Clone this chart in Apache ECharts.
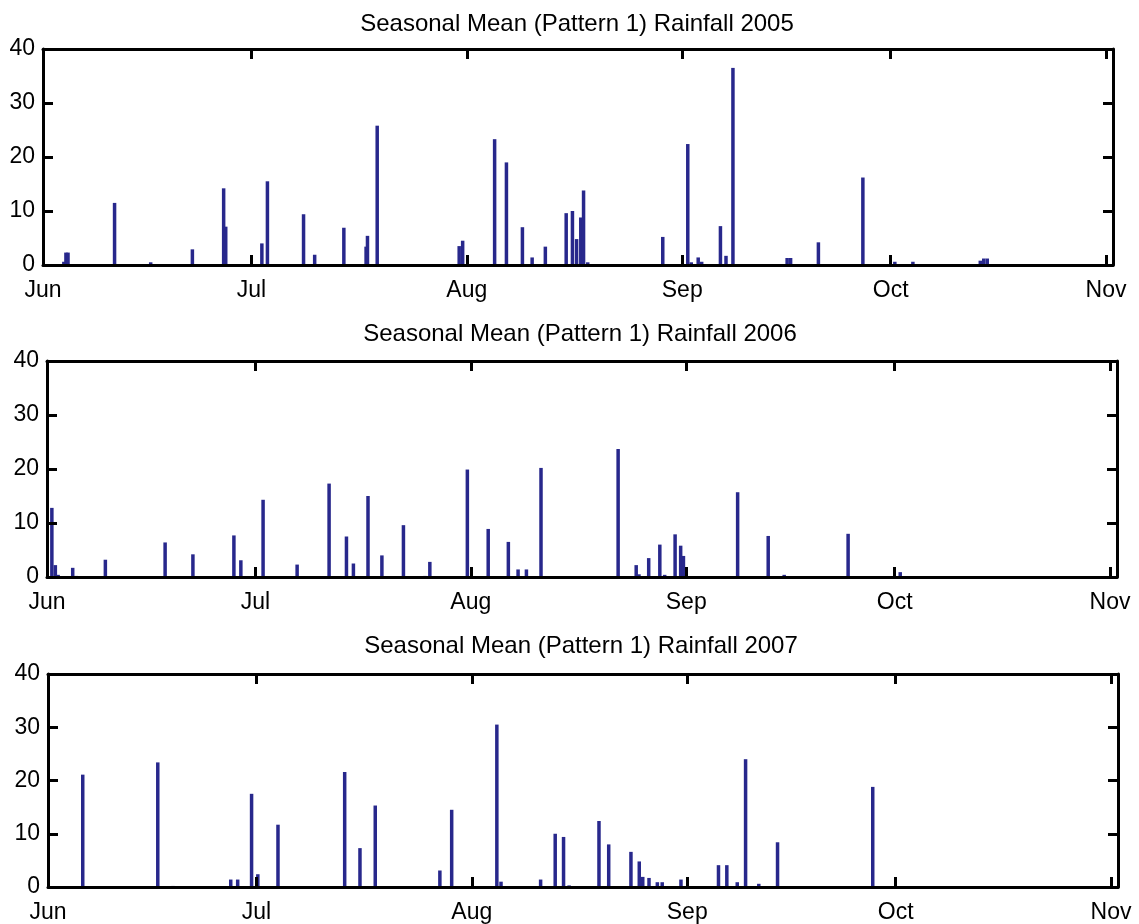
<!DOCTYPE html>
<html>
<head>
<meta charset="utf-8">
<title>Seasonal Mean (Pattern 1) Rainfall</title>
<script src="https://cdn.jsdelivr.net/npm/echarts@6.0.0/dist/echarts.min.js"></script>
<style>
  html, body { margin: 0; padding: 0; background: #ffffff; }
  #chart { width: 1139px; height: 924px; }
</style>
</head>
<body>
<div id="chart"></div>
<script>
// Season axis: days counted from 1 June; month labels at the first of each month
const MONTH_NAMES = ['Jun', 'Jul', 'Aug', 'Sep', 'Oct', 'Nov'];
const MONTH_STARTS = [0, 30, 61, 92, 122, 153];
const Y_TICKS = [0, 10, 20, 30, 40];
const YEARS = ['2005', '2006', '2007'];

// 2005: day of season and rainfall
const days2005 = [3.0, 3.3, 3.6, 10.3, 15.5, 21.5, 26.0, 26.3, 31.5, 32.3, 37.5, 39.1, 43.3, 46.5, 46.7, 48.1,
  59.9, 60.4, 65.0, 66.7, 69.0, 70.4, 72.3, 75.3, 76.2, 76.8, 77.4, 77.8, 78.4,
  89.2, 92.8, 93.3, 94.3, 94.8, 97.5, 98.3, 99.3, 107.1, 107.6, 111.6, 118.0, 122.6, 125.2,
  134.9, 135.4, 135.9];
const rain2005 = [0.6, 2.3, 2.3, 11.5, 0.5, 2.9, 14.2, 7.1, 4.0, 15.5, 9.4, 1.9, 6.9, 3.4, 5.4, 25.8,
  3.5, 4.5, 23.3, 19.0, 7.0, 1.4, 3.4, 9.6, 10.0, 4.8, 8.8, 13.8, 0.5,
  5.2, 22.4, 0.5, 1.4, 0.6, 7.2, 1.7, 36.5, 1.3, 1.3, 4.2, 16.2, 0.6, 0.6,
  0.8, 1.2, 1.2];

// 2006
const days2006 = [0.7, 1.2, 1.6, 3.7, 4.2, 8.4, 17.0, 21.0, 26.9, 27.9, 31.1, 36.0, 40.6, 43.1, 44.1, 46.2, 48.2,
  51.3, 54.4, 55.1, 60.5, 63.5, 66.4, 67.8, 69.0, 71.1, 82.2, 84.8, 85.2, 86.6, 88.2, 88.9,
  90.4, 91.2, 91.6, 99.4, 103.8, 106.1, 115.3, 122.8];
const rain2006 = [12.8, 2.2, 0.4, 1.7, 0.2, 3.2, 6.4, 4.2, 7.7, 3.1, 14.3, 2.3, 17.3, 7.5, 2.5, 15.0, 4.0,
  9.6, 0.2, 2.8, 19.9, 8.9, 6.5, 1.4, 1.4, 20.2, 23.7, 2.2, 0.5, 3.5, 6.0, 0.4,
  7.9, 5.8, 3.9, 15.7, 7.6, 0.4, 8.0, 0.9];

// 2007
const days2007 = [5.0, 15.8, 18.0, 26.3, 27.3, 29.3, 30.2, 33.1, 42.7, 44.9, 47.1,
  56.4, 58.1, 64.6, 65.2, 70.9, 73.0, 74.2, 75.0, 79.3, 80.7, 83.9, 85.1, 85.6, 86.5, 87.7, 88.4,
  91.1, 96.5, 97.7, 99.2, 100.4, 102.3, 105.0, 118.7];
const rain2007 = [21.1, 23.4, 0.2, 1.4, 1.4, 17.5, 2.4, 11.7, 21.6, 7.3, 15.3,
  3.1, 14.5, 30.5, 1.0, 1.4, 10.0, 9.4, 0.3, 12.4, 8.0, 6.6, 4.8, 1.9, 1.7, 0.9, 0.9,
  1.4, 4.1, 4.1, 0.9, 24.0, 0.6, 8.4, 18.8];

const SERIES_DAYS = [days2005, days2006, days2007];
const SERIES_RAIN = [rain2005, rain2006, rain2007];

const FONT = '"Liberation Sans", Arial, Helvetica, sans-serif';
const INK = '#000000';
const BAR_COLOR = '#28288c';

const panels = [
  { left: 43, top: 49, titleX: 577, titleY: 12 },
  { left: 47, top: 361, titleX: 580, titleY: 322 },
  { left: 48, top: 674, titleX: 581, titleY: 634 }
];
const PLOT_W = 1070;
const PLOT_H = 216;
const X_MAX = 154;

const lineStyle = { color: INK, width: 3 };
const tickStyle = { color: INK, width: 3 };

const grid = [], xAxis = [], yAxis = [], series = [], graphic = [];

panels.forEach((p, i) => {
  grid.push({ left: p.left, top: p.top, width: PLOT_W, height: PLOT_H, containLabel: false });

  const xBase = {
    type: 'value', gridIndex: i, min: 0, max: X_MAX, z: 5,
    axisLine: { show: true, onZero: false, lineStyle },
    splitLine: { show: false },
    axisTick: { show: true, inside: true, length: 10, lineStyle: tickStyle, customValues: MONTH_STARTS }
  };
  xAxis.push(Object.assign({}, xBase, {
    position: 'bottom',
    axisLabel: {
      show: true, customValues: MONTH_STARTS, margin: 14,
      color: INK, fontSize: 23, fontFamily: FONT,
      formatter: v => MONTH_NAMES[MONTH_STARTS.indexOf(Math.round(v))] || ''
    }
  }));
  xAxis.push(Object.assign({}, xBase, { position: 'top', axisLabel: { show: false } }));

  const yBase = {
    type: 'value', gridIndex: i, min: 0, max: 40, interval: 10, z: 5,
    axisLine: { show: true, onZero: false, lineStyle },
    splitLine: { show: false },
    axisTick: { show: true, inside: true, length: 10, lineStyle: tickStyle }
  };
  yAxis.push(Object.assign({}, yBase, {
    position: 'left',
    axisLabel: { show: true, margin: 8, color: INK, fontSize: 23, fontFamily: FONT }
  }));
  yAxis.push(Object.assign({}, yBase, { position: 'right', axisLabel: { show: false } }));

  series.push({
    type: 'bar',
    name: YEARS[i],
    xAxisIndex: i * 2,
    yAxisIndex: i * 2,
    barWidth: 3.5,
    barGap: '-100%',
    itemStyle: { color: BAR_COLOR },
    silent: true,
    data: SERIES_DAYS[i].map((d, k) => [d, SERIES_RAIN[i][k]])
  });

  graphic.push({
    type: 'text',
    x: p.titleX,
    y: p.titleY,
    style: {
      text: 'Seasonal Mean (Pattern 1) Rainfall ' + YEARS[i],
      fill: INK,
      font: '24px ' + FONT,
      align: 'center',
      verticalAlign: 'top',
      textAlign: 'center',
      textVerticalAlign: 'top'
    }
  });
});

const chart = echarts.init(document.getElementById('chart'));
chart.setOption({
  animation: false,
  backgroundColor: '#ffffff',
  grid, xAxis, yAxis, series, graphic
});
</script>
</body>
</html>
